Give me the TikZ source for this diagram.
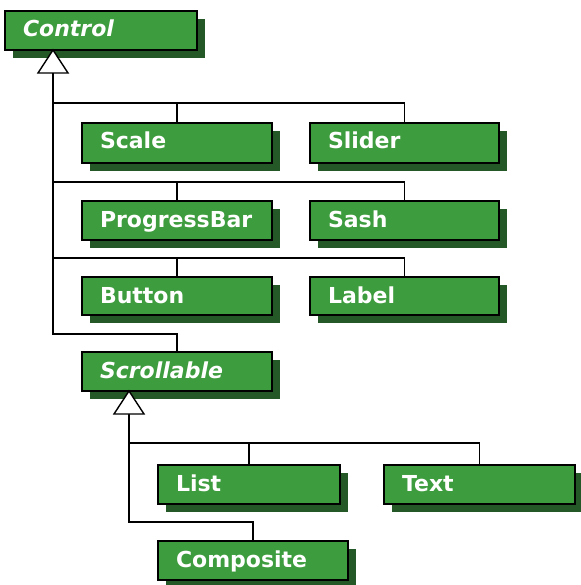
\documentclass[tikz,border=0pt]{standalone}
\usepackage{fontspec}
\setmainfont{DejaVu Sans}
\usetikzlibrary{shadows}
\definecolor{boxgreen}{RGB}{61,156,61}
\definecolor{shadowgreen}{RGB}{36,88,38}
\tikzset{
  cls/.style 2 args={draw=black, line width=1.6pt, fill=boxgreen,
    general shadow={fill=shadowgreen, shadow xshift=8pt, shadow yshift=-8pt},
    anchor=north west, outer sep=0pt, inner xsep=18pt, inner ysep=0pt,
    text height=26pt, text depth=#2, text width=#1, align=left,
    text=white, font=\fontsize{22}{24}\selectfont\bfseries},
  abstract/.style={font=\fontsize{22}{24}\selectfont\bfseries\itshape},
  conn/.style={draw=black, line width=1.4pt},
  tri/.style={draw=black, line width=1.4pt, fill=white, line join=miter}
}
\begin{document}
\begin{tikzpicture}[x=1pt,y=-1pt]
\useasboundingbox (0,0) rectangle (580,585);
% classes
\node[cls={156pt}{13pt}, abstract] (control) at (5,11) {Control};
\node[cls={154pt}{14pt}] (scale) at (82,123) {Scale};
\node[cls={153pt}{14pt}] (slider) at (310,123) {Slider};
\node[cls={154pt}{13pt}] (progress) at (82,201) {ProgressBar};
\node[cls={153pt}{13pt}] (sash) at (310,201) {Sash};
\node[cls={154pt}{12pt}] (button) at (82,277) {Button};
\node[cls={153pt}{12pt}] (label) at (310,277) {Label};
\node[cls={154pt}{13pt}, abstract] (scroll) at (82,352) {Scrollable};
\node[cls={146pt}{13pt}] (list) at (158,465) {List};
\node[cls={155pt}{13pt}] (text) at (384,465) {Text};
\node[cls={154pt}{13pt}] (composite) at (158,541) {Composite};
% junction coordinates
\coordinate (ca) at (53,50);
\coordinate (ct) at (53,73);
\coordinate (j1) at (53,103);
\coordinate (j2) at (53,182);
\coordinate (j3) at (53,258);
\coordinate (j4) at (53,334);
\coordinate (sa) at (129,391);
\coordinate (st) at (129,414);
\coordinate (k1) at (129,443);
\coordinate (k2) at (129,522);
% Control hierarchy
\draw[conn] (ct) -- (j4) -| (scroll.north);
\draw[conn] (j1) -| (slider.north);
\draw[conn] (scale.north) -- (scale.north |- j1);
\draw[conn] (j2) -| (sash.north);
\draw[conn] (progress.north) -- (progress.north |- j2);
\draw[conn] (j3) -| (label.north);
\draw[conn] (button.north) -- (button.north |- j3);
\draw[tri] (ca) -- ++(15,23) -- ++(-30,0) -- cycle;
% Scrollable hierarchy
\draw[conn] (st) -- (k2) -| (composite.north);
\draw[conn] (k1) -| (text.north);
\draw[conn] (list.north) -- (list.north |- k1);
\draw[tri] (sa) -- ++(15,23) -- ++(-30,0) -- cycle;
\end{tikzpicture}
\end{document}
